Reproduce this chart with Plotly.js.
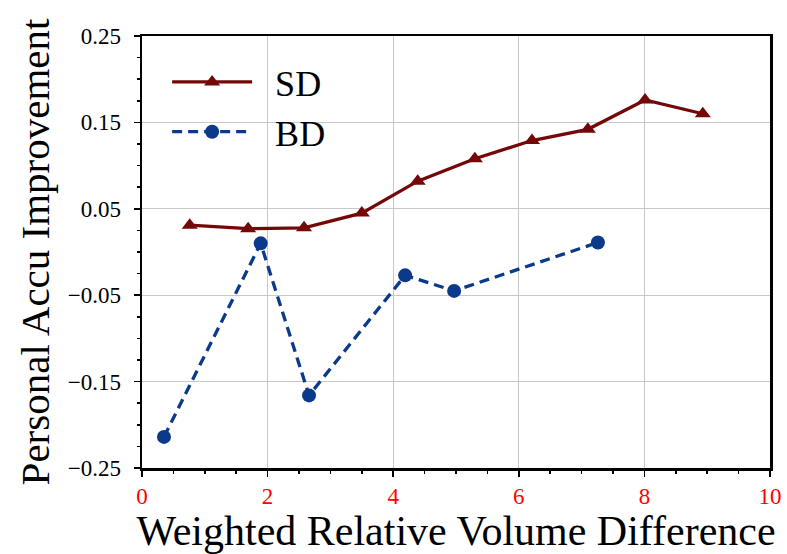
<!DOCTYPE html>
<html>
<head>
<meta charset="utf-8">
<script src="https://cdn.plot.ly/plotly-3.0.1.min.js"></script>
<style>html,body{margin:0;padding:0;background:#fff;}#chart{width:787px;height:554px;}</style>
</head>
<body>
<div id="chart"></div>
<script>
const sdX = [0.76, 1.69, 2.58, 3.50, 4.39, 5.30, 6.21, 7.10, 8.01, 8.93];
const sdY = [0.031, 0.027, 0.028, 0.045, 0.082, 0.108, 0.129, 0.142, 0.176, 0.160];
const bdX = [0.35, 1.89, 2.66, 4.19, 4.97, 7.26];
const bdY = [-0.214, 0.010, -0.166, -0.027, -0.045, 0.011];
const yTicks = [-0.25, -0.15, -0.05, 0.05, 0.15, 0.25];
const yTickText = ['\u22120.25', '\u22120.15', '\u22120.05', '0.05', '0.15', '0.25'];
const xTicks = [0, 2, 4, 6, 8, 10];

const serif = 'Liberation Serif, Times New Roman, serif';
const traces = [
  {x: sdX, y: sdY, name: '  SD', mode: 'lines+markers', legendgroup: 'a',
   line: {color: '#740808', width: 3.3},
   marker: {symbol: 'triangle-up', size: 14, color: '#740808'}},
  {x: bdX, y: bdY, name: '  BD', mode: 'lines+markers', legendgroup: 'b',
   line: {color: '#0b3a8a', width: 3.3, dash: '10px,6px'},
   marker: {symbol: 'circle', size: 14, color: '#0b3a8a'}}
];
const layout = {
  width: 787, height: 554,
  margin: {l: 142, r: 17, t: 36, b: 86},
  paper_bgcolor: '#fff', plot_bgcolor: '#fff',
  showlegend: true,
  legend: {x: 0.04, y: 0.963, xanchor: 'left', yanchor: 'top', bgcolor: 'rgba(0,0,0,0)',
           font: {family: serif, size: 36, color: '#000'}, traceorder: 'grouped', tracegroupgap: 0,
           itemwidth: 80},
  xaxis: {range: [0, 10], tickvals: xTicks, ticks: 'outside', ticklen: 6, tickwidth: 1.5, tickcolor: '#000',
          minor: {dtick: 0.5, ticks: 'outside', ticklen: 3, tickcolor: '#000', showgrid: false},
          showgrid: true, gridcolor: '#c8c8c8', gridwidth: 1, zeroline: false,
          showline: true, linecolor: '#000', linewidth: 2.5, mirror: true,
          tickfont: {family: serif, size: 23, color: '#ff0000'},
          title: {text: 'Weighted Relative Volume Difference', font: {family: serif, size: 42, color: '#000'}, standoff: 4}},
  yaxis: {range: [-0.25, 0.25], tickvals: yTicks, ticktext: yTickText, ticks: 'outside', ticklen: 6, tickwidth: 1.5, tickcolor: '#000',
          ticklabelstandoff: 8,
          minor: {dtick: 0.025, tick0: 0.25, ticks: 'outside', ticklen: 3, tickcolor: '#000', showgrid: false},
          showgrid: true, gridcolor: '#c8c8c8', gridwidth: 1, zeroline: false,
          showline: true, linecolor: '#000', linewidth: 2.5, mirror: true,
          tickfont: {family: serif, size: 23, color: '#000'},
          title: {text: 'Personal Accu Improvement', font: {family: serif, size: 41, color: '#000'}, standoff: 6}}
};
Plotly.newPlot('chart', traces, layout, {displayModeBar: false, staticPlot: true});
</script>
</body>
</html>
